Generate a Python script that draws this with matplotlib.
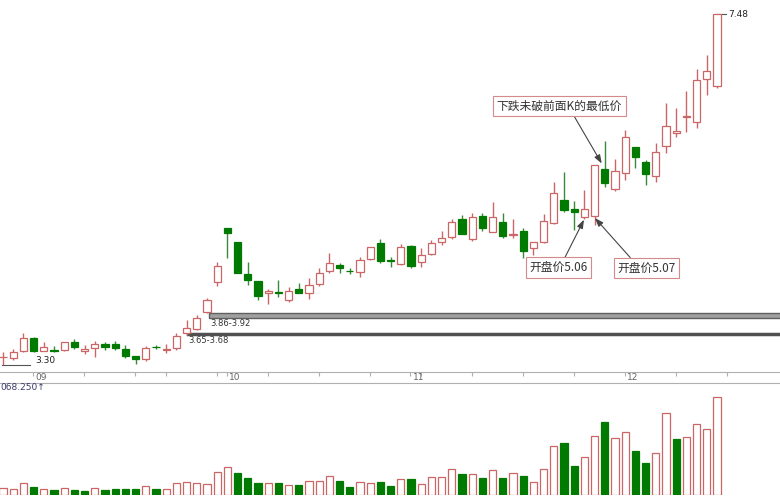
import matplotlib
matplotlib.use("Agg")
import matplotlib.pyplot as plt
import numpy as np

plt.rcParams['font.family'] = ['Noto Sans CJK SC', 'DejaVu Sans']

# daily K-line data
opens = [3.395, 3.383, 3.467, 3.625, 3.47, 3.475, 3.48, 3.57, 3.47, 3.50,
         3.546, 3.546, 3.494, 3.407, 3.368, 3.515, 3.48, 3.506, 3.685, 3.725,
         3.935, 4.29, 4.93, 4.76, 4.38, 4.30, 4.155, 4.165, 4.08, 4.21,
         4.16, 4.27, 4.42, 4.49, 4.425, 4.41, 4.56, 4.757, 4.545, 4.50,
         4.72, 4.53, 4.62, 4.77, 4.83, 5.04, 4.80, 5.075, 4.88, 5.00,
         4.845, 4.895, 4.69, 4.76, 4.99, 5.265, 5.158, 5.06, 5.07, 5.64,
         5.40, 5.59, 5.90, 5.72, 5.555, 5.91, 6.06, 6.25, 6.19, 6.71, 6.62]
highs = [3.455, 3.49, 3.68, 3.63, 3.577, 3.526, 3.57, 3.605, 3.54, 3.586,
         3.575, 3.59, 3.54, 3.41, 3.53, 3.54, 3.55, 3.68, 3.836, 3.895,
         4.10, 4.53, 4.93, 4.76, 4.53, 4.30, 4.21, 4.31, 4.23, 4.28,
         4.34, 4.46, 4.63, 4.52, 4.46, 4.59, 4.71, 4.80, 4.59, 4.74,
         4.73, 4.69, 4.79, 4.89, 5.04, 5.09, 5.11, 5.11, 5.245, 5.11,
         5.04, 4.935, 4.77, 5.095, 5.475, 5.60, 5.25, 5.38, 5.68, 5.97,
         5.75, 6.10, 5.90, 5.74, 5.94, 6.42, 6.36, 6.56, 6.825, 6.99, 7.48]
lows = [3.30, 3.36, 3.455, 3.46, 3.467, 3.455, 3.47, 3.49, 3.43, 3.39,
        3.48, 3.48, 3.38, 3.31, 3.35, 3.49, 3.44, 3.48, 3.66, 3.717,
        3.92, 4.24, 4.57, 4.39, 4.25, 4.07, 4.03, 4.11, 4.05, 4.16,
        4.09, 4.24, 4.40, 4.39, 4.38, 4.35, 4.55, 4.51, 4.47, 4.49,
        4.45, 4.47, 4.61, 4.73, 4.80, 4.86, 4.78, 4.90, 4.88, 4.81,
        4.815, 4.57, 4.61, 4.75, 4.98, 5.125, 4.91, 5.035, 4.97, 5.415,
        5.37, 5.50, 5.65, 5.44, 5.48, 5.82, 6.02, 6.07, 6.125, 6.515, 6.595]
closes = [3.40, 3.455, 3.625, 3.467, 3.51, 3.47, 3.57, 3.518, 3.49, 3.546,
          3.51, 3.50, 3.41, 3.37, 3.50, 3.51, 3.49, 3.645, 3.745, 3.856,
          4.08, 4.48, 4.875, 4.39, 4.31, 4.12, 4.185, 4.16, 4.185, 4.16,
          4.25, 4.39, 4.52, 4.45, 4.42, 4.55, 4.70, 4.54, 4.54, 4.70,
          4.48, 4.61, 4.757, 4.81, 5.00, 4.86, 5.066, 4.93, 5.06, 4.84,
          4.855, 4.655, 4.76, 5.02, 5.345, 5.146, 5.125, 5.158, 5.68, 5.47,
          5.61, 6.01, 5.78, 5.575, 5.84, 6.15, 6.09, 6.26, 6.69, 6.80, 7.48]
volumes = [64, 55, 113, 80, 58, 48, 70, 48, 41, 64,
           48, 55, 55, 58, 84, 55, 55, 113, 122, 113,
           106, 224, 267, 209, 161, 113, 113, 113, 96, 96,
           138, 138, 183, 138, 74, 128, 113, 125, 90, 154,
           151, 106, 170, 170, 250, 199, 199, 161, 241, 166,
           209, 186, 128, 247, 472, 498, 279, 363, 568, 705,
           551, 609, 423, 305, 401, 786, 536, 561, 680, 632, 940]
vol_up = [1, 1, 1, 0, 1, 0, 1, 0, 0, 1, 0, 0, 0, 0, 1, 0, 1, 1, 1, 1,
          1, 1, 1, 0, 0, 0, 1, 0, 1, 0, 1, 1, 1, 0, 0, 1, 1, 0, 0, 1,
          0, 1, 1, 1, 1, 0, 1, 0, 1, 0, 1, 0, 1, 1, 1, 0, 0, 1, 1, 0,
          1, 1, 0, 0, 1, 1, 0, 1, 1, 1, 1]

tick_pos = [3, 8, 13, 16, 21, 22, 26, 31, 36, 40, 41, 46, 51, 56, 61, 66, 71]
month_pos = [3, 22, 40, 61]
month_labels = ['09', '10', '11', '12']

UP = '#cc6666'
DOWN = '#007a00'
DOWN_WICK = '#3a8a3a'

o = np.array(opens); h = np.array(highs); l = np.array(lows); c = np.array(closes)
x = np.arange(len(o))

fig = plt.figure(figsize=(7.8, 5.0), dpi=100)
ax = fig.add_axes([0, 0.256, 1, 0.744])
axv = fig.add_axes([0, 0.01, 1, 0.224])

up = c >= o
wick_cols = [UP if u else DOWN_WICK for u in up]
ax.vlines(x, l, h, colors=wick_cols, linewidth=1, zorder=2)
ax.bar(x, np.maximum(np.abs(c - o), 0.004), bottom=np.minimum(o, c), width=0.7,
       facecolor=['white' if u else DOWN for u in up],
       edgecolor=[UP if u else DOWN for u in up], linewidth=0.9, zorder=3)

# support zones
ax.fill_between([20.2, 80], 3.86, 3.92, facecolor='#a0a0a0', edgecolor='#606060', linewidth=1, zorder=1)
ax.plot([18.1, 80], [3.665, 3.665], color='#505050', linewidth=2.5, zorder=1)
ax.text(20.3, 3.80, '3.86-3.92', fontsize=6, color='#333333', va='center', ha='left', family='DejaVu Sans')
ax.text(18.2, 3.59, '3.65-3.68', fontsize=6, color='#333333', va='center', ha='left', family='DejaVu Sans')

# high / low markers
ax.plot([70, 70.88], [7.48, 7.48], color='#555555', linewidth=0.8)
ax.text(71.15, 7.48, '7.48', fontsize=6.5, color='#222222', va='center', ha='left', family='DejaVu Sans')
ax.plot([-0.1, 2.65], [3.30, 3.30], color='#555555', linewidth=0.8)
ax.text(3.2, 3.348, '3.30', fontsize=6.5, color='#222222', va='center', ha='left', family='DejaVu Sans')

box = dict(boxstyle='square,pad=0.3', fc='white', ec='#d48a8a', lw=0.8)
arrow = dict(arrowstyle='-|>,head_length=0.6,head_width=0.22', color='#444444', lw=0.8, shrinkA=0, shrinkB=0)
ax.annotate('下跌未破前面K的最低价', xy=(58.7, 5.70), xytext=(54.56, 6.384), fontsize=8.5,
            color='#333333', ha='center', va='center', bbox=box,
            arrowprops=dict(arrow, relpos=(0.6, 0)))
ax.annotate('开盘价5.06', xy=(56.96, 5.03), xytext=(54.46, 4.461), fontsize=8.5,
            color='#333333', ha='center', va='center', bbox=box,
            arrowprops=dict(arrow, relpos=(0.58, 1)))
ax.annotate('开盘价5.07', xy=(58.04, 5.05), xytext=(63.1, 4.455), fontsize=8.5,
            color='#333333', ha='center', va='center', bbox=box,
            arrowprops=dict(arrow, relpos=(0.28, 1)))

ax.set_xlim(-0.294, 76.18)
ax.set_ylim(3.2166, 7.647)
for s in ['top', 'right', 'left']:
    ax.spines[s].set_visible(False)
ax.spines['bottom'].set_color('#b0b0b0')
ax.set_yticks([])
ax.set_xticks(np.array(tick_pos) - 0.05)
ax.set_xticklabels([])
ax.tick_params(axis='x', direction='out', length=3, color='#b0b0b0')
for mp, ml in zip(month_pos, month_labels):
    ax.text(mp + 0.2, -0.014, ml, transform=ax.get_xaxis_transform(), fontsize=6.5,
            color='#666666', ha='left', va='center', family='DejaVu Sans')

# volume
vu = np.array(vol_up, dtype=bool)
axv.bar(x, volumes, width=0.7, facecolor=['white' if u else DOWN for u in vu],
        edgecolor=[UP if u else DOWN for u in vu], linewidth=0.9)
axv.set_xlim(-0.294, 76.18)
axv.set_ylim(0, 1078)
for s in ['right', 'left', 'bottom']:
    axv.spines[s].set_visible(False)
axv.spines['top'].set_color('#b0b0b0')
axv.set_xticks([]); axv.set_yticks([])
fig.text(0.0, 1 - 388 / 500, '068.250↑', fontsize=6.5, color='#3b3b6b', va='center', ha='left',
         family='DejaVu Sans')

fig.savefig('out.png', dpi=100)
